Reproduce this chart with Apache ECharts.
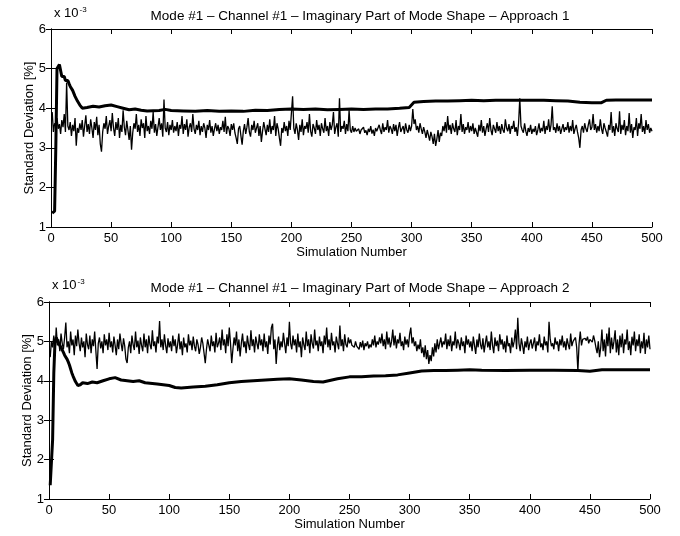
<!DOCTYPE html>
<html>
<head>
<meta charset="utf-8">
<script src="https://cdn.jsdelivr.net/npm/echarts@6/dist/echarts.min.js"></script>
<style>
  html, body { margin: 0; padding: 0; background: #fff; }
  #chart { width: 680px; height: 536px; }
</style>
</head>
<body>
<div id="chart"></div>
<script>
// values in units of 1e-3 (axis reads "x 10^-3")
const titles = [
  'Mode #1 \u2013 Channel #1 \u2013 Imaginary Part of Mode Shape \u2013 Approach 1',
  'Mode #1 \u2013 Channel #1 \u2013 Imaginary Part of Mode Shape \u2013 Approach 2'
]

// approach 1, per-simulation estimate (thin line), sims 1..500
const thin1 = [
  3.90, 3.40, 3.62, 3.55, 3.75, 3.48, 3.60, 3.35, 3.70, 3.52, 3.85, 3.40, 4.65, 3.55, 3.45, 3.65, 3.30, 3.58, 3.42, 3.75, 3.05, 3.50, 3.38, 3.62, 3.45,
  3.70, 3.28, 3.55, 3.82, 3.40, 3.60, 3.35, 3.72, 3.50, 3.25, 3.65, 3.45, 3.78, 3.32, 3.58, 3.10, 2.90, 3.40, 3.62, 3.48, 3.80, 3.35, 3.55, 3.70, 3.42,
  3.88, 3.50, 3.30, 3.65, 3.45, 3.75, 3.25, 3.58, 3.40, 3.95, 3.52, 3.32, 3.68, 3.45, 3.20, 3.55, 2.95, 3.38, 3.62, 3.48, 3.85, 3.40, 3.58, 3.30, 3.72,
  3.50, 3.62, 3.25, 3.80, 3.42, 3.55, 3.35, 3.68, 3.48, 3.90, 3.38, 3.60, 3.30, 3.52, 3.75, 3.45, 3.62, 3.28, 4.22, 3.50, 3.40, 3.65, 3.32, 3.58, 3.45,
  3.70, 3.38, 3.55, 3.42, 3.65, 3.30, 3.58, 3.48, 3.80, 3.35, 3.60, 3.45, 3.72, 3.28, 3.52, 3.62, 3.40, 3.85, 3.48, 3.35, 3.58, 3.45, 3.68, 3.32, 3.55,
  3.40, 3.62, 3.50, 3.25, 3.58, 3.45, 3.70, 3.38, 3.55, 3.30, 3.48, 3.62, 3.42, 3.58, 3.35, 3.52, 3.45, 3.68, 3.40, 3.78, 3.35, 3.55, 3.48, 3.30, 3.60,
  3.45, 3.62, 3.38, 3.25, 3.10, 3.48, 3.55, 3.30, 3.08, 3.42, 3.60, 3.35, 3.52, 3.75, 3.40, 3.28, 3.58, 3.45, 3.68, 3.38, 3.50, 3.62, 3.30, 3.55, 3.15,
  3.42, 3.65, 3.48, 3.32, 3.58, 3.40, 3.72, 3.35, 3.55, 3.45, 3.80, 3.30, 3.62, 3.48, 3.25, 3.05, 3.50, 3.38, 3.65, 3.42, 3.55, 3.30, 3.68, 3.45, 3.40,
  4.30, 3.50, 3.35, 3.62, 3.45, 3.20, 3.58, 3.40, 3.72, 3.32, 3.55, 3.48, 3.65, 3.38, 3.85, 3.42, 3.28, 3.60, 3.50, 3.35, 3.70, 3.45, 3.58, 3.30, 3.62,
  3.48, 3.38, 3.75, 3.42, 3.55, 3.30, 3.65, 3.45, 3.58, 3.90, 3.35, 3.52, 3.62, 3.28, 4.25, 3.40, 3.55, 3.48, 3.68, 3.35, 3.60, 3.42, 3.95, 3.45, 3.38,
  3.55, 3.40, 3.50, 3.42, 3.38, 3.48, 3.35, 3.45, 3.40, 3.52, 3.38, 3.44, 3.32, 3.48, 3.40, 3.55, 3.36, 3.46, 3.30, 3.50, 3.42, 3.38, 3.58, 3.45, 3.35,
  3.62, 3.40, 3.52, 3.45, 3.70, 3.38, 3.55, 3.48, 3.35, 3.60, 3.42, 3.58, 3.30, 3.50, 3.65, 3.40, 3.48, 3.55, 3.35, 3.62, 3.45, 3.38, 3.58, 3.42, 3.55,
  3.98, 3.60, 3.72, 3.45, 3.55, 3.38, 3.62, 3.48, 3.35, 3.52, 3.40, 3.25, 3.45, 3.32, 3.18, 3.40, 3.28, 3.10, 3.35, 3.05, 3.22, 3.45, 3.15, 3.38, 3.30,
  3.55, 3.42, 3.65, 3.38, 3.80, 3.45, 3.58, 3.35, 3.62, 3.48, 3.40, 3.70, 3.32, 3.55, 3.45, 3.85, 3.40, 3.60, 3.35, 3.52, 3.45, 3.65, 3.38, 3.55, 3.42,
  3.62, 3.35, 3.50, 3.45, 3.28, 3.58, 3.42, 3.70, 3.38, 3.55, 3.30, 3.48, 3.62, 3.40, 3.75, 3.45, 3.32, 3.58, 3.48, 3.38, 3.65, 3.42, 3.55, 3.35, 3.60,
  3.45, 3.38, 3.72, 3.50, 3.42, 3.60, 3.35, 3.55, 3.48, 3.68, 3.40, 3.52, 3.30, 3.62, 4.25, 3.55, 3.45, 3.38, 3.62, 3.42, 3.30, 3.50, 3.40, 3.58, 3.35,
  3.48, 3.40, 3.55, 3.32, 3.45, 3.62, 3.38, 3.50, 3.42, 3.68, 3.35, 3.55, 3.45, 3.72, 3.40, 3.58, 4.05, 3.45, 3.52, 3.38, 3.62, 3.42, 3.55, 3.35, 3.48,
  3.60, 3.40, 3.52, 3.45, 3.65, 3.38, 3.55, 3.42, 3.70, 3.35, 3.48, 3.58, 3.40, 3.25, 3.00, 3.45, 3.55, 3.38, 3.62, 3.48, 3.40, 3.58, 3.72, 3.45, 3.52,
  3.85, 3.45, 3.60, 3.38, 3.55, 3.42, 3.72, 3.48, 3.35, 3.62, 3.50, 3.40, 3.28, 3.58, 3.45, 3.90, 3.38, 3.55, 3.30, 3.62, 3.48, 3.40, 3.92, 3.35, 3.58,
  3.45, 3.70, 3.32, 3.55, 3.42, 3.88, 3.38, 3.60, 3.25, 3.52, 3.45, 3.75, 3.30, 3.62, 3.48, 3.85, 3.40, 3.55, 3.35, 3.70, 3.45, 3.60, 3.38, 3.50, 3.42
]

// approach 2, per-simulation estimate (thin line), sims 1..500
const thin2 = [
  4.60, 5.00, 4.85, 5.15, 4.70, 5.35, 4.90, 5.05, 4.75, 5.20, 4.95, 4.80, 5.10, 5.48, 4.85, 5.00, 4.70, 5.25, 4.90, 5.05, 4.65, 5.15, 4.88, 5.30, 4.95,
  4.75, 5.10, 4.85, 5.00, 4.60, 5.20, 4.92, 4.80, 5.15, 4.70, 5.05, 4.88, 5.25, 4.75, 4.30, 4.95, 5.10, 4.82, 5.00, 4.70, 5.18, 4.90, 5.05, 4.78, 5.22,
  4.85, 5.00, 4.72, 5.12, 4.90, 4.65, 5.05, 4.80, 5.20, 4.95, 4.75, 5.08, 4.88, 4.55, 4.45, 4.85, 5.00, 4.70, 5.15, 4.92, 4.78, 5.25, 4.85, 5.02, 4.68,
  5.10, 4.90, 4.75, 5.20, 4.85, 5.05, 4.70, 5.15, 4.92, 4.80, 5.28, 4.88, 5.00, 4.72, 5.12, 4.95, 5.52, 4.85, 5.05, 4.78, 5.18, 4.90, 4.70, 5.08, 4.85,
  5.00, 4.75, 5.15, 4.88, 5.05, 4.70, 4.92, 5.20, 4.80, 5.00, 4.65, 5.10, 4.85, 4.95, 4.72, 5.18, 4.90, 5.02, 4.78, 5.12, 4.88, 4.75, 5.05, 4.92, 4.68,
  4.85, 5.10, 4.95, 4.70, 4.45, 4.80, 5.05, 4.90, 4.75, 5.15, 4.88, 5.00, 4.72, 5.22, 4.85, 4.95, 5.10, 4.78, 5.30, 4.90, 5.05, 4.70, 5.18, 4.88, 5.35,
  4.95, 4.45, 4.80, 5.10, 4.90, 5.25, 4.75, 5.05, 4.62, 4.95, 5.20, 4.85, 5.00, 4.70, 5.15, 4.92, 4.78, 5.28, 4.88, 5.05, 4.72, 5.12, 4.95, 4.80, 5.18,
  4.90, 5.05, 4.75, 5.20, 4.85, 5.00, 4.68, 5.15, 4.92, 5.35, 5.45, 4.80, 5.05, 4.43, 4.90, 5.12, 4.78, 5.00, 4.85, 5.22, 4.95, 4.70, 5.10, 4.88, 5.50,
  4.95, 4.80, 5.15, 4.90, 5.05, 4.72, 5.20, 4.85, 5.00, 4.60, 5.10, 4.92, 4.78, 5.25, 4.88, 5.05, 4.70, 5.18, 4.95, 4.82, 5.30, 4.90, 5.02, 4.75, 5.12,
  4.88, 5.00, 4.70, 5.15, 4.92, 5.35, 4.85, 5.05, 4.78, 5.22, 4.90, 5.00, 4.72, 5.12, 4.95, 4.80, 5.40, 4.88, 5.05, 4.75, 5.18, 4.92, 4.85, 5.10, 4.95,
  5.05, 4.90, 4.95, 4.85, 5.00, 4.88, 4.92, 4.80, 4.98, 4.85, 5.02, 4.78, 4.95, 4.88, 5.00, 4.82, 4.92, 4.85, 5.05, 4.90, 5.15, 4.85, 5.00, 4.92, 5.10,
  4.95, 5.20, 4.88, 5.05, 4.80, 5.25, 4.92, 5.10, 4.85, 5.00, 5.30, 4.90, 5.15, 4.82, 5.05, 4.95, 5.22, 4.88, 5.00, 4.78, 5.12, 4.92, 5.05, 4.85, 5.18,
  5.35, 4.95, 5.10, 4.88, 5.00, 4.75, 4.92, 4.80, 5.05, 4.70, 4.85, 4.60, 4.90, 4.55, 4.78, 4.43, 4.65, 4.50, 4.85, 4.62, 4.95, 4.72, 5.05, 4.80, 4.95,
  5.10, 4.85, 5.00, 4.92, 5.20, 4.80, 5.05, 4.88, 5.15, 4.75, 5.00, 4.90, 5.25, 4.82, 5.05, 4.95, 4.78, 5.10, 4.88, 5.00, 4.70, 5.15, 4.92, 5.05, 4.85,
  5.00, 4.75, 5.12, 4.90, 4.68, 5.05, 4.85, 5.20, 4.92, 4.80, 5.08, 4.72, 4.95, 5.15, 4.85, 5.00, 4.78, 5.25, 4.90, 4.70, 5.10, 4.88, 5.02, 4.75, 5.18,
  4.92, 5.05, 4.80, 5.00, 4.72, 5.15, 4.88, 4.95, 4.70, 5.10, 4.85, 5.00, 5.30, 4.80, 5.60, 4.95, 4.75, 5.08, 4.90, 4.68, 5.00, 4.85, 5.12, 4.78, 4.95,
  5.05, 4.82, 4.95, 5.10, 4.75, 5.00, 4.90, 5.18, 4.85, 4.95, 4.78, 5.12, 4.90, 5.00, 4.72, 5.50, 5.05, 4.88, 4.95, 4.80, 5.10, 4.92, 5.00, 4.75, 5.05,
  4.90, 5.15, 4.85, 5.00, 4.78, 5.08, 4.92, 4.80, 5.20, 4.88, 5.00, 4.95, 5.10, 4.85, 4.25, 4.95, 5.25, 4.90, 5.05, 5.00, 5.08, 5.02, 5.12, 4.95, 5.05,
  5.10, 4.98, 5.15, 5.02, 4.85, 4.70, 5.00, 4.60, 4.85, 5.30, 4.75, 5.05, 4.62, 5.20, 4.88, 5.35, 4.70, 5.10, 4.80, 5.00, 5.28, 4.72, 5.05, 4.65, 5.15,
  4.85, 5.20, 4.70, 5.05, 4.92, 5.30, 4.78, 5.00, 4.65, 5.12, 4.90, 5.25, 4.75, 5.05, 4.88, 5.18, 4.70, 5.00, 4.82, 5.22, 4.68, 5.05, 4.85, 5.15, 4.80
]

// running estimate (thick line), [simulation, value]
const thick1 = [
  [1, 1.35], [2, 1.30], [3, 1.40], [4, 3.00], [5, 5.00], [6, 5.05], [7, 5.10], [8, 5.08], [9, 4.80], [10, 4.75],
  [11, 4.80], [12, 4.70], [13, 4.65], [14, 4.70], [15, 4.62], [16, 4.55], [17, 4.50], [18, 4.45], [20, 4.30], [22, 4.18],
  [24, 4.08], [26, 4.00], [30, 4.02], [35, 4.05], [40, 4.03], [45, 4.06], [50, 4.08], [55, 4.04], [60, 4.00], [65, 3.96],
  [70, 3.98], [75, 3.95], [80, 3.93], [90, 3.94], [95, 3.97], [100, 3.94], [110, 3.93], [120, 3.92], [130, 3.94], [140, 3.92],
  [150, 3.93], [160, 3.92], [170, 3.95], [180, 3.94], [190, 3.97], [200, 3.98], [210, 3.97], [220, 3.98], [230, 3.96], [240, 3.97],
  [250, 3.98], [260, 3.97], [270, 3.98], [280, 3.98], [290, 4.00], [298, 4.02], [302, 4.15], [310, 4.17], [320, 4.18], [330, 4.18],
  [340, 4.19], [350, 4.20], [360, 4.19], [370, 4.20], [380, 4.20], [390, 4.20], [400, 4.20], [410, 4.20], [420, 4.19], [430, 4.18],
  [440, 4.15], [450, 4.14], [458, 4.14], [462, 4.20], [470, 4.21], [480, 4.21], [490, 4.21], [500, 4.21]
]

const thick2 = [
  [1, 1.35], [2, 1.30], [3, 2.50], [4, 4.20], [5, 5.00], [6, 5.10], [7, 5.05], [8, 4.95], [9, 4.90], [10, 4.85],
  [11, 4.80], [12, 4.72], [13, 4.65], [14, 4.60], [15, 4.55], [16, 4.48], [17, 4.40], [18, 4.30], [19, 4.20], [20, 4.12],
  [22, 3.98], [24, 3.88], [26, 3.90], [28, 3.95], [32, 3.93], [36, 3.97], [40, 3.95], [45, 4.00], [50, 4.05], [55, 4.08],
  [60, 4.02], [65, 4.00], [70, 3.98], [75, 4.00], [80, 3.95], [90, 3.92], [100, 3.88], [105, 3.83], [110, 3.82], [120, 3.84],
  [130, 3.86], [140, 3.90], [150, 3.95], [160, 3.98], [170, 4.00], [180, 4.02], [190, 4.04], [200, 4.05], [210, 4.02], [220, 3.98],
  [228, 3.97], [240, 4.05], [250, 4.10], [260, 4.10], [270, 4.12], [280, 4.13], [290, 4.15], [300, 4.20], [310, 4.25], [320, 4.26],
  [330, 4.26], [340, 4.27], [350, 4.28], [360, 4.27], [380, 4.26], [400, 4.27], [420, 4.27], [440, 4.26], [450, 4.24], [460, 4.28],
  [480, 4.28], [500, 4.28]
]

const font = '"Liberation Sans", Arial, sans-serif'

function xAxes (g) {
  let base = {
    gridIndex: g,
    type: 'value',
    min: 0,
    max: 500,
    interval: 50,
    splitLine: { show: false },
    axisLine: { lineStyle: { color: '#000', width: 1 } },
    axisTick: { inside: true, length: 5, lineStyle: { color: '#000' } }
  }
  return [
    Object.assign({}, base, {
      position: 'bottom',
      name: 'Simulation Number',
      nameLocation: 'middle',
      nameGap: 19,
      nameMoveOverlap: false,
      nameTextStyle: { color: '#000', fontSize: 13, fontFamily: font },
      axisLabel: { color: '#000', fontSize: 13, fontFamily: font, margin: 5 }
    }),
    Object.assign({}, base, { position: 'top', axisLabel: { show: false } })
  ]
}

function yAxes (g) {
  let base = {
    gridIndex: g,
    type: 'value',
    min: 1,
    max: 6,
    interval: 1,
    splitLine: { show: false },
    axisLine: { lineStyle: { color: '#000', width: 1 } },
    axisTick: { inside: true, length: 5, lineStyle: { color: '#000' } }
  }
  return [
    Object.assign({}, base, {
      position: 'left',
      name: 'Standard Deviation [%]',
      nameLocation: 'middle',
      nameGap: 15,
      nameMoveOverlap: false,
      nameTextStyle: { color: '#000', fontSize: 13, fontFamily: font },
      axisLabel: { color: '#000', fontSize: 13, fontFamily: font, margin: 5 }
    }),
    Object.assign({}, base, { position: 'right', axisLabel: { show: false } })
  ]
}

function lines (g, thin, thick) {
  return [
    {
      type: 'line',
      xAxisIndex: g * 2,
      yAxisIndex: g * 2,
      data: thin.map((v, i) => [i + 1, v]),
      showSymbol: false,
      lineStyle: { color: '#000', width: 1.3 },
      animation: false
    },
    {
      type: 'line',
      xAxisIndex: g * 2,
      yAxisIndex: g * 2,
      data: thick,
      showSymbol: false,
      lineStyle: { color: '#000', width: 3 },
      animation: false
    }
  ]
}

let chart = echarts.init(document.getElementById('chart'), null, { renderer: 'canvas' })
let titleStyle = { fontSize: 13.5, fontWeight: 'normal', color: '#000', fontFamily: font }
let expRich = {
  a: { fontSize: 13, fontFamily: font, fill: '#000' },
  b: { fontSize: 8, fontFamily: font, fill: '#000', verticalAlign: 'top', padding: [0, 0, 6, 1] }
}
chart.setOption({
  backgroundColor: '#fff',
  title: [
    { text: titles[0], left: 355, top: 4, textAlign: 'center', textStyle: titleStyle },
    { text: titles[1], left: 355, top: 276, textAlign: 'center', textStyle: titleStyle }
  ],
  graphic: [
    { type: 'text', left: 54, top: 6, style: { text: '{a|x 10}{b|-3}', rich: expRich } },
    { type: 'text', left: 52, top: 278, style: { text: '{a|x 10}{b|-3}', rich: expRich } }
  ],
  grid: [
    { left: 51, top: 29, width: 601, height: 198 },
    { left: 49, top: 302, width: 601, height: 197 }
  ],
  xAxis: xAxes(0).concat(xAxes(1)),
  yAxis: yAxes(0).concat(yAxes(1)),
  series: lines(0, thin1, thick1).concat(lines(1, thin2, thick2))
})
</script>
</body>
</html>
